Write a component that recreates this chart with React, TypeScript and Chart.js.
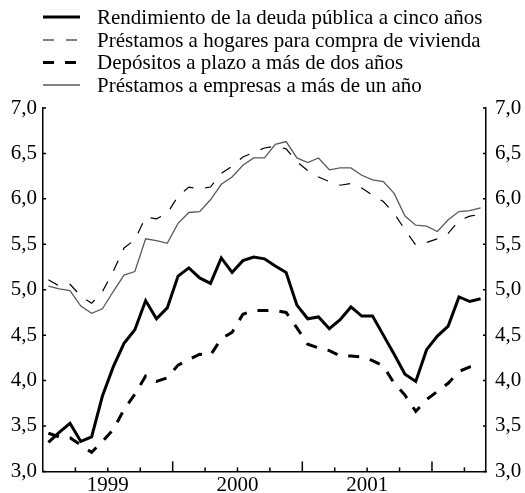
import React, { useEffect, useRef } from "react";
import { Chart, registerables } from "chart.js";

Chart.register(...registerables);

// Monthly data, Jan 1999 – May 2002
const yearLabels = ["1999", "2000", "2001"];
const seriesNames = [
  "Rendimiento de la deuda pública a cinco años",
  "Préstamos a hogares para compra de vivienda",
  "Depósitos a plazo a más de dos años",
  "Préstamos a empresas a más de un año",
];
const yTicks = [3.0, 3.5, 4.0, 4.5, 5.0, 5.5, 6.0, 6.5, 7.0];

const rendimiento = [
  3.32, 3.43, 3.53, 3.33, 3.38, 3.83, 4.15, 4.41, 4.56, 4.88,
  4.68, 4.80, 5.15, 5.24, 5.13, 5.07, 5.35, 5.19, 5.32, 5.36,
  5.34, 5.26, 5.19, 4.83, 4.68, 4.70, 4.57, 4.67, 4.81, 4.71,
  4.71, 4.50, 4.29, 4.07, 3.99, 4.34, 4.49, 4.60, 4.92, 4.87, 4.90,
];
const hogares = [
  5.11, 5.04, 5.06, 4.93, 4.85, 4.98, 5.20, 5.46, 5.55, 5.80,
  5.78, 5.84, 6.03, 6.13, 6.11, 6.13, 6.28, 6.36, 6.46, 6.51,
  6.56, 6.58, 6.55, 6.41, 6.31, 6.24, 6.19, 6.15, 6.17, 6.12,
  6.04, 5.97, 5.84, 5.66, 5.49, 5.52, 5.56, 5.62, 5.76, 5.81, 5.83,
];
const depositos = [
  3.42, 3.38, 3.37, 3.29, 3.21, 3.33, 3.46, 3.68, 3.85, 4.05,
  3.99, 4.03, 4.17, 4.23, 4.29, 4.28, 4.46, 4.53, 4.73, 4.77,
  4.77, 4.77, 4.75, 4.58, 4.40, 4.36, 4.33, 4.27, 4.27, 4.26,
  4.22, 4.16, 3.97, 3.84, 3.66, 3.79, 3.88, 3.97, 4.10, 4.15, 4.16,
];
const empresas = [
  5.04, 5.01, 4.99, 4.82, 4.74, 4.79, 4.98, 5.16, 5.20, 5.56,
  5.54, 5.51, 5.73, 5.85, 5.86, 5.99, 6.16, 6.24, 6.37, 6.45,
  6.45, 6.60, 6.63, 6.45, 6.40, 6.45, 6.32, 6.34, 6.34, 6.26,
  6.21, 6.19, 6.06, 5.81, 5.71, 5.70, 5.64, 5.77, 5.86, 5.87, 5.90,
];

const nMonths = rendimiento.length;
const toPoints = (arr: number[]) => arr.map((v, i) => ({ x: i + 0.5, y: v }));
const FONT = "'Liberation Serif', 'Times New Roman', serif";

const decorPlugin = {
  id: "decor",
  afterDraw(chart: any) {
    const { ctx, chartArea, scales } = chart;
    ctx.save();
    ctx.strokeStyle = "#000";
    ctx.lineWidth = 1.5;
    ctx.setLineDash([]);
    // x tick marks (quarters, taller at year start), pointing inward
    for (let q = 3; q < nMonths; q += 3) {
      const x = scales.x.getPixelForValue(q);
      const len = q % 12 === 0 ? 10 : 4;
      ctx.beginPath();
      ctx.moveTo(x, chartArea.bottom);
      ctx.lineTo(x, chartArea.bottom - len);
      ctx.stroke();
    }
    // y tick marks on both axes, pointing inward
    yTicks.forEach((t) => {
      const y = scales.y.getPixelForValue(t);
      ctx.beginPath();
      ctx.moveTo(chartArea.left, y);
      ctx.lineTo(chartArea.left + 3, y);
      ctx.moveTo(chartArea.right, y);
      ctx.lineTo(chartArea.right - 3, y);
      ctx.stroke();
    });
    // legend
    const rows = [17, 40, 62.5, 85];
    ctx.font = `21px ${FONT}`;
    ctx.textBaseline = "middle";
    ctx.textAlign = "left";
    ctx.fillStyle = "#000";
    chart.data.datasets.forEach((ds: any, i: number) => {
      const y = rows[i];
      ctx.strokeStyle = ds.borderColor;
      ctx.lineWidth = ds.borderWidth;
      ctx.setLineDash(ds.borderDash || []);
      ctx.beginPath();
      ctx.moveTo(43, y);
      ctx.lineTo(80, y);
      ctx.stroke();
      ctx.fillText(ds.label, 97, y + 1);
    });
    ctx.restore();
  },
};

export default function App() {
  const ref = useRef<HTMLCanvasElement>(null);
  useEffect(() => {
    if (!ref.current) return;
    const chart = new Chart(ref.current, {
      type: "line",
      data: {
        datasets: [
          {
            label: seriesNames[0],
            data: toPoints(rendimiento),
            borderColor: "#000",
            borderWidth: 3,
            borderJoinStyle: "miter",
            pointRadius: 0,
            tension: 0,
          },
          {
            label: seriesNames[1],
            data: toPoints(hogares),
            borderColor: "#000",
            borderWidth: 1.2,
            borderDash: [11, 12],
            pointRadius: 0,
            tension: 0,
          },
          {
            label: seriesNames[2],
            data: toPoints(depositos),
            borderColor: "#000",
            borderWidth: 3,
            borderDash: [11, 11],
            pointRadius: 0,
            tension: 0,
          },
          {
            label: seriesNames[3],
            data: toPoints(empresas),
            borderColor: "#5a5a5a",
            borderWidth: 1.3,
            pointRadius: 0,
            tension: 0,
          },
        ],
      },
      options: {
        responsive: false,
        animation: false,
        devicePixelRatio: 1,
        layout: { padding: { top: 108, left: 0, right: 0, bottom: 0 } },
        plugins: { legend: { display: false }, tooltip: { enabled: false } },
        scales: {
          x: {
            type: "linear",
            min: 0,
            max: nMonths,
            grid: { display: false, drawTicks: false },
            border: { display: true, color: "#000", width: 1.5 },
            afterBuildTicks: (axis: any) => {
              axis.ticks = yearLabels.map((_, i) => ({ value: 6 + 12 * i }));
            },
            afterFit: (axis: any) => {
              axis.height = 21;
            },
            ticks: {
              autoSkip: false,
              maxRotation: 0,
              padding: 1,
              color: "#000",
              font: { family: FONT, size: 21 },
              callback: (v: any) => {
                const idx = Math.round((Number(v) - 6) / 12);
                return yearLabels[idx] ?? "";
              },
            },
          },
          y: {
            position: "left",
            min: 3,
            max: 7,
            grid: { display: false, drawTicks: false },
            border: { display: true, color: "#000", width: 1.5 },
            afterFit: (axis: any) => {
              axis.width = 43;
            },
            ticks: {
              stepSize: 0.5,
              padding: 6,
              color: "#000",
              font: { family: FONT, size: 21 },
              callback: (v: any) => Number(v).toFixed(1).replace(".", ","),
            },
          },
          y2: {
            position: "right",
            min: 3,
            max: 7,
            display: true,
            grid: { display: false, drawTicks: false },
            border: { display: true, color: "#000", width: 1.5 },
            afterFit: (axis: any) => {
              axis.width = 39;
            },
            ticks: {
              stepSize: 0.5,
              padding: 9,
              color: "#000",
              font: { family: FONT, size: 21 },
              callback: (v: any) => Number(v).toFixed(1).replace(".", ","),
            },
          },
        },
      },
      plugins: [decorPlugin],
    } as any);
    return () => chart.destroy();
  }, []);
  return (
    <div style={{ position: "absolute", left: 0, top: 0, width: 525, height: 493, background: "#fff" }}>
      <canvas ref={ref} width={525} height={493} />
    </div>
  );
}
